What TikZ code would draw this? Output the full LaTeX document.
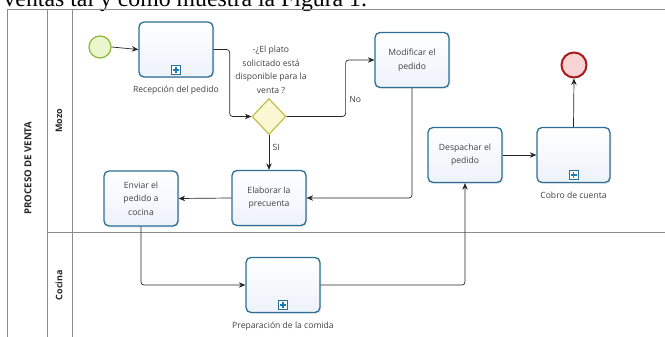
\documentclass[tikz,border=0pt]{standalone}
\usepackage{fontspec}
\setmainfont{Open Sans}
\newfontfamily\titlefont{Liberation Serif}
\usetikzlibrary{shapes.geometric,arrows.meta,shadows}
\definecolor{taskline}{HTML}{2C6E96}
\definecolor{taskfill}{HTML}{EDF2FA}
\definecolor{plusblue}{HTML}{1C7CB8}
\definecolor{startline}{HTML}{8AB83A}
\definecolor{startfill}{HTML}{EAF6CC}
\definecolor{endline}{HTML}{A81C1C}
\definecolor{endfill}{HTML}{F7D3D3}
\definecolor{gateline}{HTML}{C4BE48}
\definecolor{gatefill}{HTML}{FAF8D2}
\definecolor{laneline}{HTML}{8C8C8C}
\definecolor{labeltext}{HTML}{404040}

\begin{document}
\begin{tikzpicture}[x=1pt, y=-1pt,
    font=\fontsize{8.6}{13.5}\selectfont, text=labeltext,
    task/.style={rectangle, rounded corners=5pt, draw=taskline, line width=1.3pt,
        top color=white, bottom color=taskfill, minimum width=74pt, minimum height=55pt,
        align=center, inner sep=2pt,
        drop shadow={opacity=0.15, shadow xshift=1.5pt, shadow yshift=-1.5pt}},
    plusbox/.style={rectangle, draw=taskline, line width=0.9pt, fill=white,
        minimum size=9pt, inner sep=0pt,
        path picture={\draw[plusblue, line width=1.8pt]
            ([xshift=-3pt]path picture bounding box.center) -- ([xshift=3pt]path picture bounding box.center)
            ([yshift=-3pt]path picture bounding box.center) -- ([yshift=3pt]path picture bounding box.center);}},
    flow/.style={draw=black!85, line width=0.7pt, rounded corners=3pt, -{Stealth[length=6.5pt, width=5.5pt]}},
    lane/.style={draw=laneline, line width=0.8pt},
    lanename/.style={rotate=90, font=\fontsize{9}{11}\selectfont\bfseries, text=black!85}]

\clip (0,0) rectangle (665,337);

\node[anchor=base west, font=\titlefont\fontsize{23.8}{26}\selectfont, text=black] (title) at (0,6.5) {ventas tal y como muestra la Figura 1.};

\draw[lane] (7,9) -- (665,9);
\draw[lane] (7,9) -- (7,340);
\draw[lane] (47,9) -- (47,340);
\draw[lane] (72,9) -- (72,340);
\draw[lane] (47,232) -- (665,232);

\node[lanename, font=\fontsize{9.6}{11}\selectfont\bfseries] (pool) at (28,168) {PROCESO DE VENTA};
\node[lanename] (mozo) at (59,121) {Mozo};
\node[lanename] (cocina) at (59,285) {Cocina};

\node[circle, draw=startline, fill=startfill, line width=1.2pt, minimum size=22pt] (start) at (100,47) {};
\node[task] (rec) at (176,49.5) {};
\node[plusbox] (recmark) at ([yshift=8pt]rec.south) {};
\node[anchor=north] (reclabel) at ([yshift=-5pt]rec.south) {Recepción del pedido};

\node[diamond, draw=gateline, fill=gatefill, line width=1.2pt, minimum width=34pt, minimum height=36pt, inner sep=0pt] (gw) at (269,116.5) {};
\node[align=center] (question) at (271,70) {-¿El plato\\solicitado está\\disponible para la\\venta ?};

\node[task] (mod) at (412,60) {Modificar el\\pedido};
\node[task] (elab) at (269,198) {Elaborar la\\precuenta};
\node[task] (env) at (141,198.5) {Enviar el\\pedido a\\cocina};

\node[task] (prep) at (283,285) {};
\node[plusbox] (prepmark) at ([yshift=8pt]prep.south) {};
\node[anchor=north] (preplabel) at ([yshift=-5pt]prep.south) {Preparación de la comida};

\node[task] (desp) at (465,155) {Despachar el\\pedido};
\node[task, minimum width=73pt] (cobro) at (573.5,155) {};
\node[plusbox] (cobromark) at ([yshift=8pt]cobro.south) {};
\node[anchor=north] (cobrolabel) at ([yshift=-5pt]cobro.south) {Cobro de cuenta};

\node[circle, draw=endline, fill=endfill, line width=2pt, minimum size=25pt] (end) at (574,65) {};

\draw[flow] (start.east) -- (rec.west);
\draw[flow] (rec.east) -- ++(16,0) |- (gw.west);
\draw[flow] (gw.south) -- (elab.north) node[pos=0.36, right] {SI};
\draw[flow] (gw.east) -- ++(59,0) |- (mod.west) node[pos=0.15, right] {No};
\draw[flow] (mod.south) |- (elab.east);
\draw[flow] (elab.west) -- (env.east);
\draw[flow] (env.south) |- (prep.west);
\draw[flow] (prep.east) -| (desp.south);
\draw[flow] (desp.east) -- (cobro.west);
\draw[flow] (cobro.north) -- (end.south);

\end{tikzpicture}
\end{document}
